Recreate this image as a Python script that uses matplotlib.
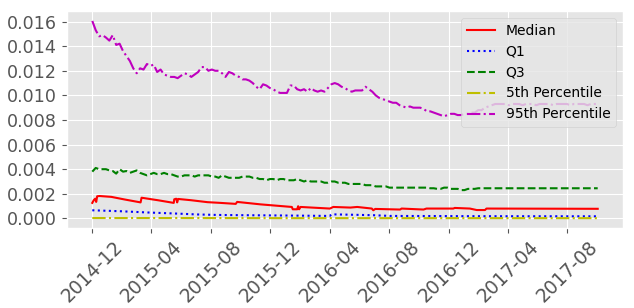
import matplotlib
matplotlib.use("Agg")
import matplotlib.pyplot as plt
import matplotlib.dates as mdates
import pandas as pd

plt.style.use("ggplot")

# Weekly-sampled noisy series (start 2014-12-01, one value per week)
weekly_start = "2014-12-01"
p95 = [0.01605, 0.0153, 0.0148, 0.0149, 0.0147, 0.01445, 0.0149, 0.0141, 0.0142, 0.0136,
       0.0132, 0.0128, 0.0122, 0.0118, 0.0122, 0.0121, 0.01255, 0.0124, 0.0125, 0.0119,
       0.0121, 0.0117, 0.0116, 0.0115, 0.0115, 0.0114, 0.0116, 0.0118, 0.0117, 0.0115,
       0.0117, 0.0119, 0.0123, 0.0123, 0.0120, 0.0121, 0.0120, 0.0120, 0.0118, 0.0115,
       0.0119, 0.0118, 0.0116, 0.0115, 0.0113, 0.0113, 0.0112, 0.0110, 0.0107, 0.0105,
       0.0109, 0.0108, 0.0106, 0.0105, 0.0103, 0.0102, 0.0102, 0.0102, 0.0108, 0.0108,
       0.0105, 0.0104, 0.0105, 0.0103, 0.0106, 0.0104, 0.0103, 0.0104, 0.0103, 0.0106,
       0.0109, 0.0110, 0.0109, 0.0107, 0.0106, 0.0104, 0.0103, 0.0104, 0.0104, 0.0104,
       0.0107, 0.0105, 0.0103, 0.0100, 0.0098, 0.0097, 0.0096, 0.0095, 0.0094, 0.0094,
       0.0092, 0.0091, 0.0090, 0.0091, 0.0090, 0.0090, 0.0090, 0.0089, 0.0087, 0.0087,
       0.0086, 0.0085, 0.0084, 0.0083, 0.0084, 0.0085, 0.0085, 0.0084, 0.0084, 0.0085,
       0.0085, 0.0086, 0.0086, 0.0088, 0.0088, 0.0090, 0.0091, 0.0092, 0.0093, 0.0093,
       0.0093, 0.0093, 0.0092, 0.0093, 0.0093, 0.0093, 0.0092, 0.0093, 0.0093, 0.0093,
       0.0092, 0.0093, 0.0093, 0.0093, 0.0093, 0.0092, 0.0093, 0.0093, 0.0093, 0.0093,
       0.0092, 0.0093, 0.0093, 0.0093, 0.0093, 0.0092, 0.0093, 0.0093, 0.0093]
q3 = [0.0038, 0.0041, 0.0040, 0.0040, 0.0040, 0.0039, 0.00385, 0.00364, 0.0040, 0.0038,
      0.00385, 0.0037, 0.0038, 0.0039, 0.0037, 0.0036, 0.0035, 0.0036, 0.0037, 0.0036,
      0.0036, 0.0037, 0.0036, 0.0036, 0.0035, 0.0034, 0.0034, 0.0035, 0.0035, 0.0035,
      0.0034, 0.0035, 0.0035, 0.0035, 0.0035, 0.0034, 0.0034, 0.0033, 0.0035, 0.0034,
      0.0033, 0.0033, 0.0033, 0.0033, 0.0034, 0.0034, 0.0034, 0.0033, 0.0033, 0.0032,
      0.0032, 0.0031, 0.0032, 0.0032, 0.0031, 0.0032, 0.0032, 0.0031, 0.0031, 0.0031,
      0.0032, 0.0031, 0.0030, 0.0031, 0.0030, 0.0030, 0.0030, 0.0030, 0.0029, 0.0029,
      0.0030, 0.0030, 0.0029, 0.0029, 0.0029, 0.0028, 0.0028, 0.0028, 0.0028, 0.0028,
      0.0027, 0.0027, 0.0027, 0.0026, 0.0026, 0.0026, 0.0026, 0.0025, 0.0025, 0.0025,
      0.0025, 0.0025, 0.0025, 0.0025, 0.0025, 0.0025, 0.0025, 0.0025, 0.0025, 0.00245,
      0.00245, 0.0024, 0.0024, 0.0025, 0.0025, 0.0024, 0.0024, 0.0024, 0.0023, 0.0023,
      0.0024, 0.0024, 0.0024, 0.00245, 0.00245, 0.00245, 0.00245, 0.00245, 0.00245, 0.00245,
      0.00245, 0.00245, 0.00245, 0.00245, 0.00245, 0.00245, 0.00245, 0.00245, 0.00245, 0.00245,
      0.00245, 0.00245, 0.00245, 0.00245, 0.00245, 0.00245, 0.00245, 0.00245, 0.00245, 0.00245,
      0.00245, 0.00245, 0.00245, 0.00245, 0.00245, 0.00245, 0.00245, 0.00245, 0.00245]

# Irregularly sampled step-like series
median_dates = ["2014-12-01", "2014-12-04", "2014-12-07", "2014-12-09", "2014-12-11", "2014-12-16",
                "2015-01-09", "2015-02-05", "2015-03-10", "2015-03-12", "2015-04-14", "2015-05-17",
                "2015-05-18", "2015-05-22", "2015-05-24", "2015-05-26", "2015-06-21", "2015-07-25",
                "2015-08-21", "2015-09-21", "2015-09-24", "2015-11-11", "2016-01-14", "2016-01-16",
                "2016-01-25", "2016-01-27", "2016-01-29", "2016-02-01", "2016-04-01", "2016-04-08",
                "2016-05-13", "2016-05-27", "2016-06-26", "2016-06-29", "2016-07-03", "2016-08-23",
                "2016-08-26", "2016-10-10", "2016-10-16", "2016-12-10", "2016-12-13", "2017-01-13",
                "2017-01-27", "2017-02-13", "2017-02-16", "2017-10-02"]
median = [0.00126, 0.00148, 0.0016, 0.00134, 0.0018, 0.00182,
          0.00175, 0.00154, 0.0013, 0.00168, 0.00148, 0.00126,
          0.00155, 0.0016, 0.0013, 0.00158, 0.00148, 0.00132,
          0.00126, 0.00118, 0.00134, 0.00114, 0.00093, 0.00074,
          0.00074, 0.00099, 0.00074, 0.00093, 0.0008, 0.00093,
          0.00088, 0.00093, 0.0008, 0.00066, 0.00077, 0.00072,
          0.0008, 0.00072, 0.0008, 0.0008, 0.00085, 0.0008,
          0.00068, 0.00068, 0.0008, 0.00078]

q1_dates = ["2014-12-01", "2015-01-29", "2015-03-25", "2015-05-18", "2015-07-05", "2015-08-15",
            "2015-10-08", "2015-12-15", "2016-04-01", "2016-04-04", "2016-05-13", "2016-06-29",
            "2016-08-03", "2016-11-13", "2017-01-13", "2017-10-02"]
q1 = [0.00066, 0.00058, 0.00048, 0.0004, 0.00032, 0.00028,
      0.00026, 0.00024, 0.0002, 0.00033, 0.0003, 0.00026,
      0.0002, 0.00019, 0.00018, 0.00017]

p5_dates = ["2014-12-01", "2015-06-01", "2016-01-01", "2016-08-01", "2017-10-02"]
p5 = [0.00003, 0.00003, 0.00002, 0.00002, 0.00002]

y_ticks = [0.000, 0.002, 0.004, 0.006, 0.008, 0.010, 0.012, 0.014, 0.016]

weekly_dates = pd.date_range(weekly_start, periods=len(p95), freq="7D")

fig = plt.figure(figsize=(6.34, 3.08), dpi=100)
ax = fig.add_axes([0.1057, 0.2597, 0.8769, 0.7043])

ax.plot(pd.to_datetime(median_dates), median, color="r", linestyle="-", label="Median")
ax.plot(pd.to_datetime(q1_dates), q1, color="b", linestyle=":", label="Q1")
ax.plot(weekly_dates, q3, color="g", linestyle="--", label="Q3")
ax.plot(pd.to_datetime(p5_dates), p5, color="y", linestyle="-.", label="5th Percentile")
ax.plot(weekly_dates, p95, color="m", linestyle="-.", label="95th Percentile")

ax.xaxis.set_major_locator(mdates.MonthLocator(bymonth=[4, 8, 12]))
ax.xaxis.set_major_formatter(mdates.DateFormatter("%Y-%m"))
ax.set_yticks(y_ticks)
ax.set_yticklabels([f"{v:.3f}" for v in y_ticks])
ax.tick_params(axis="y", labelsize=12.6, colors="#555555")
ax.tick_params(axis="x", labelsize=13.5, colors="#555555")
for lbl in ax.get_xticklabels():
    lbl.set_rotation(45)
    lbl.set_ha("center")
ax.legend(loc="upper right", fontsize=10)

fig.savefig("out.png", dpi=100)
